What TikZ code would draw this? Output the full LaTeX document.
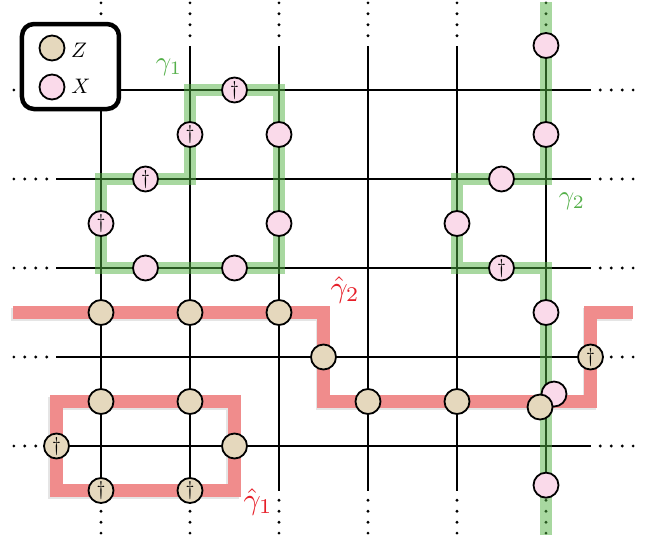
\documentclass[tikz,border=0pt]{standalone}
\definecolor{zfill}{RGB}{229,216,189}
\definecolor{xfill}{RGB}{250,218,234}
\definecolor{redpath}{RGB}{240,140,140}
\definecolor{greenpath}{RGB}{81,177,65}
\definecolor{greentext}{RGB}{85,176,74}
\definecolor{redtext}{RGB}{230,30,40}
\newcommand{\dg}{\scalebox{2}{$\dagger$}}
\begin{document}
\begin{tikzpicture}[x=89pt,y=89pt,
  lat/.style={line width=2.2pt},
  qb/.style={circle,draw,line width=1.8pt,minimum size=25pt,inner sep=0pt},
  zq/.style={qb,fill=zfill},
  xq/.style={qb,fill=xfill},
  redband/.style={line width=13pt,draw=redpath,line join=miter},
  greenband/.style={line width=12pt,draw=greenpath,draw opacity=0.5,line join=miter},
  shadowband/.style={line width=13pt,draw=black,draw opacity=0.10,line join=miter,shift={(-1.5pt,-2pt)}},
  lbl/.style={inner sep=0pt},
  legendbox/.style={draw=black,line width=4.5pt,rounded corners=12pt,fill=white,minimum width=97pt,minimum height=85pt,inner sep=0pt}]

\useasboundingbox (-1.13483,-1.07865) rectangle (6.30337,5.01124);

% lattice lines and dots
\foreach \j in {0,...,4} {
  \draw[lat] (-0.5,\j) -- (5.5,\j);
  \foreach \d in {0.11,0.233,0.356,0.479} {
    \fill (-0.5-\d,\j) circle (1.6pt);
    \fill (5.5+\d,\j) circle (1.6pt);
  }
}
\foreach \i in {0,...,5} {
  \draw[lat] (\i,-0.5) -- (\i,4.5);
  \foreach \d in {0.11,0.233,0.356,0.479} {
    \fill (\i,4.5+\d) circle (1.6pt);
    \fill (\i,-0.5-\d) circle (1.6pt);
  }
}

% red dual paths
\draw[shadowband] (-0.989,1.5) -- (2.5,1.5) -- (2.5,0.5) -- (5.5,0.5) -- (5.5,1.5) -- (5.978,1.5);
\draw[shadowband] (-0.5,-0.5) rectangle (1.5,0.5);
\draw[redband] (-0.989,1.5) -- (2.5,1.5) -- (2.5,0.5) -- (5.5,0.5) -- (5.5,1.5) -- (5.978,1.5);
\draw[redband] (-0.5,-0.5) rectangle (1.5,0.5);

% green paths
\draw[greenband] (1,4) -- (2,4) -- (2,2) -- (0,2) -- (0,3) -- (1,3) -- cycle;
\draw[greenband] (5,4.99) -- (5,3) -- (4,3) -- (4,2) -- (5,2) -- (5,-1.0);

% Z qubits
\node[zq] (z1) at (0,1.5) {};
\node[zq] (z2) at (1,1.5) {};
\node[zq] (z3) at (2,1.5) {};
\node[zq] (z4) at (2.5,1) {};
\node[zq] (z5) at (3,0.5) {};
\node[zq] (z6) at (4,0.5) {};
\node[zq] (z7) at (0,0.5) {};
\node[zq] (z8) at (1,0.5) {};
\node[zq] (z9) at (1.5,0) {};
\node[zq] (zd1) at (5.5,1) {\dg};
\node[zq] (zd2) at (-0.5,0) {\dg};
\node[zq] (zd3) at (0,-0.5) {\dg};
\node[zq] (zd4) at (1,-0.5) {\dg};

% X qubits
\node[xq] (x1) at (2,3.5) {};
\node[xq] (x2) at (2,2.5) {};
\node[xq] (x3) at (0.5,2) {};
\node[xq] (x4) at (1.5,2) {};
\node[xq] (x5) at (5,4.5) {};
\node[xq] (x6) at (5,3.5) {};
\node[xq] (x7) at (4.5,3) {};
\node[xq] (x8) at (4,2.5) {};
\node[xq] (x9) at (5,1.5) {};
\node[xq] (x10) at (5.09,0.584) {};
\node[xq] (x11) at (5,-0.44) {};
\node[xq] (xd1) at (1.5,4) {\dg};
\node[xq] (xd2) at (1,3.5) {\dg};
\node[xq] (xd3) at (0.5,3) {\dg};
\node[xq] (xd4) at (0,2.5) {\dg};
\node[xq] (xd5) at (4.5,2) {\dg};
% overlapping Z on the crossing
\node[zq] (z10) at (4.933,0.438) {};

% legend
\node[legendbox] (legend) at (-0.3427,4.264) {};
\node[zq] (lz) at (-0.5506,4.4719) {};
\node[xq] (lx) at (-0.5506,4.0337) {};
\node[lbl] (lzt) at (-0.247,4.449) {\scalebox{2.1}{$Z$}};
\node[lbl] (lxt) at (-0.225,4.039) {\scalebox{2.1}{$X$}};

% labels
\node[lbl,text=greentext] (g1) at (0.764,4.258) {\scalebox{2.7}{$\gamma_1$}};
\node[lbl,text=greentext] (g2) at (5.292,2.753) {\scalebox{2.7}{$\gamma_2$}};
\node[lbl,text=redtext] (h2) at (2.742,1.753) {\scalebox{3}{$\hat\gamma_2$}};
\node[lbl,text=redtext] (h1) at (1.764,-0.629) {\scalebox{3}{$\hat\gamma_1$}};
\end{tikzpicture}
\end{document}
